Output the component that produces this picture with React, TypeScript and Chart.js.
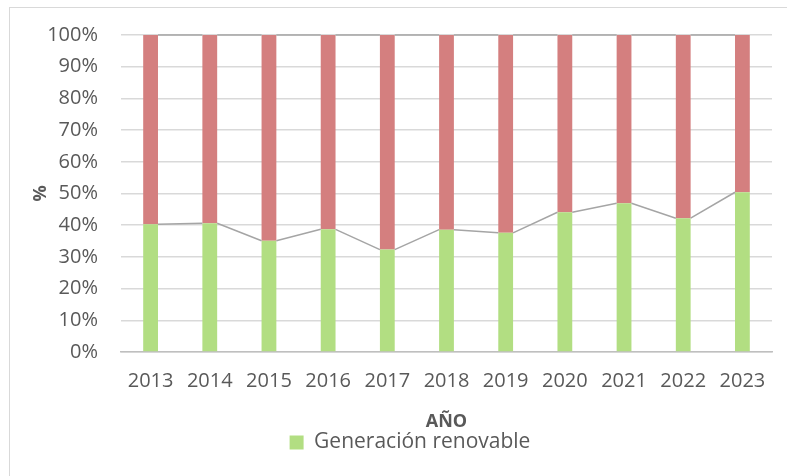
import React, { useEffect, useRef } from "react";
import { Chart, registerables } from "chart.js";

Chart.register(...registerables);

const years = ["2013", "2014", "2015", "2016", "2017", "2018", "2019", "2020", "2021", "2022", "2023"];
const renovable = [40.3, 40.6, 35.1, 38.7, 32.3, 38.6, 37.6, 44.1, 46.9, 42.2, 50.4];
const noRenovable = [59.7, 59.4, 64.9, 61.3, 67.7, 61.4, 62.4, 55.9, 53.1, 57.8, 49.6];
const yTicks = [0, 10, 20, 30, 40, 50, 60, 70, 80, 90, 100];

const FONT = "'Open Sans', sans-serif";
const TEXT = "#595959";

const seriesLines = {
  id: "seriesLines",
  afterDatasetsDraw(chart: any) {
    const ctx = chart.ctx;
    ctx.save();
    ctx.strokeStyle = "#a5a5a5";
    ctx.lineWidth = 1.5;
    chart.data.datasets.forEach((_: any, di: number) => {
      const meta = chart.getDatasetMeta(di);
      const els = meta.data;
      ctx.beginPath();
      for (let i = 0; i < els.length - 1; i++) {
        const a = els[i];
        const b = els[i + 1];
        ctx.moveTo(a.x + a.width / 2, a.y);
        ctx.lineTo(b.x - b.width / 2, b.y);
      }
      ctx.stroke();
    });
    ctx.restore();
  },
};

const frame = {
  id: "frame",
  afterLayout(chart: any) {
    if (chart.legend) {
      chart.legend.left += 9;
      chart.legend.right += 9;
    }
  },
  beforeDraw(chart: any) {
    const ctx = chart.ctx;
    ctx.save();
    ctx.fillStyle = "#ffffff";
    ctx.fillRect(0, 0, chart.width, chart.height);
    ctx.strokeStyle = "#d9d9d9";
    ctx.lineWidth = 1;
    ctx.strokeRect(9.5, 7.5, 800, 500);
    ctx.restore();
  },
};

export default function App() {
  const ref = useRef<HTMLCanvasElement>(null);
  useEffect(() => {
    document.body.style.margin = "0";
    const chart = new Chart(ref.current as HTMLCanvasElement, {
      type: "bar",
      data: {
        labels: years,
        datasets: [
          {
            label: "Generación renovable",
            data: renovable,
            backgroundColor: "#b2de82",
            categoryPercentage: 1,
            barPercentage: 0.25,
          },
          {
            label: "Generación no renovable",
            data: noRenovable,
            backgroundColor: "#d47f7f",
            categoryPercentage: 1,
            barPercentage: 0.25,
          },
        ],
      },
      options: {
        animation: false,
        responsive: false,
        layout: { padding: { left: 30, top: 34, right: 15, bottom: 13 } },
        plugins: {
          tooltip: { enabled: false },
          legend: {
            position: "bottom",
            labels: {
              filter: (item: any) => item.datasetIndex === 0,
              boxWidth: 14,
              boxHeight: 14,
              padding: 1,
              color: TEXT,
              font: { family: FONT, size: 21, lineHeight: 1.15 },
            },
          },
        },
        scales: {
          x: {
            stacked: true,
            grid: { display: false, drawTicks: false },
            border: { color: "#bfbfbf", width: 1.5 },
            ticks: { color: TEXT, font: { family: FONT, size: 20 }, padding: 17, maxRotation: 0 },
            title: {
              display: true,
              text: "AÑO",
              color: TEXT,
              font: { family: FONT, size: 18, weight: "bold" },
              padding: { top: 0, bottom: -1.5 },
            },
            afterFit: (s: any) => {
              s.height = 79;
            },
          },
          y: {
            stacked: true,
            min: 0,
            max: 100,
            afterBuildTicks: (s: any) => {
              s.ticks = yTicks.map((v) => ({ value: v }));
            },
            grid: { color: "#d9d9d9", lineWidth: 1.5, drawTicks: false },
            border: { display: false },
            ticks: {
              color: TEXT,
              font: { family: FONT, size: 20 },
              padding: 23,
              callback: (v: any) => v + "%",
            },
            title: {
              display: true,
              text: "%",
              color: TEXT,
              font: { family: FONT, size: 18, weight: "bold" },
              padding: { top: 0, bottom: 0 },
            },
            afterFit: (s: any) => {
              s.width = 91;
            },
          },
        },
      },
      plugins: [frame, seriesLines],
    } as any);
    return () => chart.destroy();
  }, []);
  return <canvas ref={ref} width={787} height={476} style={{ display: "block" }} />;
}
